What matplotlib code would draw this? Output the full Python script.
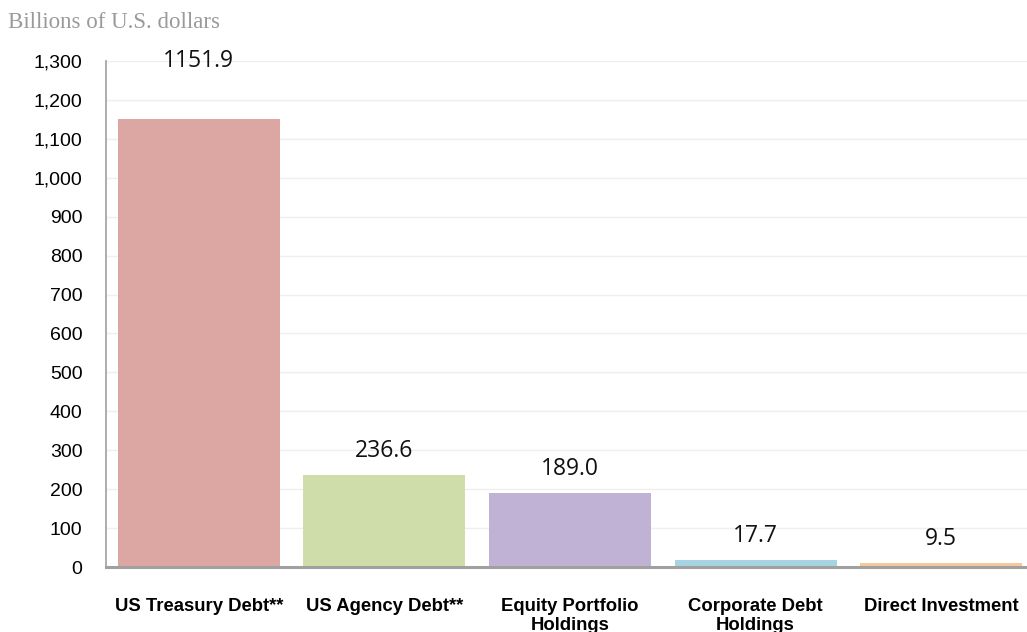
import matplotlib
matplotlib.use("Agg")
import matplotlib.pyplot as plt
from matplotlib.ticker import FuncFormatter, MultipleLocator

categories = ["US Treasury Debt**", "US Agency Debt**", "Equity Portfolio\nHoldings",
              "Corporate Debt\nHoldings", "Direct Investment"]
values = [1151.9, 236.6, 189.0, 17.7, 9.5]
value_labels = ["1151.9", "236.6", "189.0", "17.7", "9.5"]
colors = ["#DCA7A3", "#CFDDAA", "#C0B2D4", "#A6D4E3", "#F8C99B"]

W, H = 1027, 632
fig = plt.figure(figsize=(W / 100, H / 100), dpi=100)
left, right, top, bottom = 106, 1027, 61, 567
ax = fig.add_axes([left / W, 1 - bottom / H, (right - left) / W, (bottom - top) / H])

x = list(range(len(categories)))
ax.bar(x, values, width=0.873, color=colors, zorder=2)
ax.set_xlim(-0.5, 4.5 - 7 / 185.6)
ax.set_ylim(0, 1300)
ax.yaxis.set_major_locator(MultipleLocator(100))
ax.yaxis.set_major_formatter(FuncFormatter(lambda v, p: f"{int(v):,}"))
ax.grid(axis="y", color="#EFEFEF", linewidth=1, zorder=0)
ax.set_axisbelow(True)

for s in ["top", "right"]:
    ax.spines[s].set_visible(False)
ax.spines["left"].set_color("#A0A0A0")
ax.spines["left"].set_linewidth(1.2)
ax.spines["bottom"].set_color("#A0A0A0")
ax.spines["bottom"].set_linewidth(2.2)

ax.tick_params(axis="y", length=0, pad=17, labelsize=14)
ax.tick_params(axis="x", length=0, pad=22)
for lbl in ax.get_yticklabels():
    lbl.set_fontfamily("Liberation Sans")
ax.set_xticks(x)
ax.set_xticklabels(categories, fontfamily="Liberation Sans", fontweight="bold",
                   fontsize=13.3, linespacing=1.15, va="top")

offsets = [58, 24, 24, 24, 24]
for xi, v, t, off in zip(x, values, value_labels, offsets):
    ax.annotate(t, (xi, v), xytext=(0, off * 0.72), textcoords="offset points",
                ha="center", va="center", fontsize=16.5, fontfamily="Open Sans",
                color="#111111")

fig.text(8 / W, 1 - 22 / H, "Billions of U.S. dollars", fontsize=16.5,
         fontfamily="Liberation Serif", color="#9A9A9A", va="center", ha="left")

fig.savefig("out.png", dpi=100)
